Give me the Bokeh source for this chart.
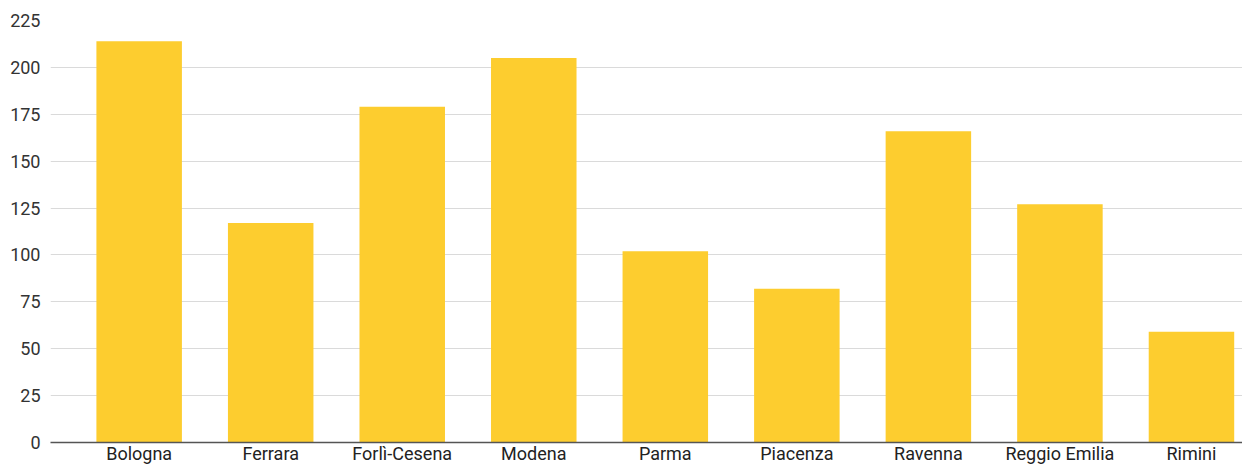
from bokeh.plotting import figure
from bokeh.models import Range1d, FixedTicker, ColumnDataSource
from bokeh.embed import file_html
from bokeh.resources import INLINE

categories = ["Bologna", "Ferrara", "Forlì-Cesena", "Modena", "Parma",
              "Piacenza", "Ravenna", "Reggio Emilia", "Rimini"]
values = [214, 117, 179, 205, 102, 82, 166, 127, 59]
y_ticks = [0, 25, 50, 75, 100, 125, 150, 175, 200, 225]

xpos = [i + 0.5 for i in range(len(categories))]
src = ColumnDataSource(dict(x=xpos, top=values, cat=categories))

p = figure(width=1242, height=466, output_backend="svg", toolbar_location=None,
           x_range=Range1d(-0.174, 8.888), y_range=Range1d(0, 225),
           min_border_left=50, min_border_right=0, min_border_top=20, min_border_bottom=0)
p.outline_line_color = None
p.background_fill_color = "white"
p.border_fill_color = "white"

p.vbar(x="x", top="top", width=0.65, bottom=0, source=src,
       fill_color="#FDCD2F", line_color=None)

FONT = "Roboto"
# x axis
p.xaxis.ticker = FixedTicker(ticks=xpos)
p.xaxis.major_label_overrides = {x: c for x, c in zip(xpos, categories)}
p.xaxis.major_tick_line_color = None
p.xaxis.major_tick_out = 0
p.xaxis.major_tick_in = 0
p.xaxis.minor_tick_line_color = None
p.xaxis.axis_line_color = "#555555"
p.xaxis.axis_line_width = 1.5
p.xaxis.major_label_text_font = FONT
p.xaxis.major_label_text_font_size = "18px"
p.xaxis.major_label_text_color = "#222222"
p.xaxis.major_label_standoff = 0

# y axis
p.yaxis.ticker = FixedTicker(ticks=y_ticks)
p.yaxis.axis_line_color = None
p.yaxis.major_tick_line_color = None
p.yaxis.major_tick_out = 0
p.yaxis.major_tick_in = 0
p.yaxis.minor_tick_line_color = None
p.yaxis.major_label_text_font = FONT
p.yaxis.major_label_text_font_size = "18px"
p.yaxis.major_label_text_color = "#333333"
p.yaxis.major_label_standoff = 10

p.xgrid.grid_line_color = None
p.ygrid.grid_line_color = "#dadada"
p.ygrid.grid_line_width = 1

open("out.html", "w").write(file_html(p, INLINE))
